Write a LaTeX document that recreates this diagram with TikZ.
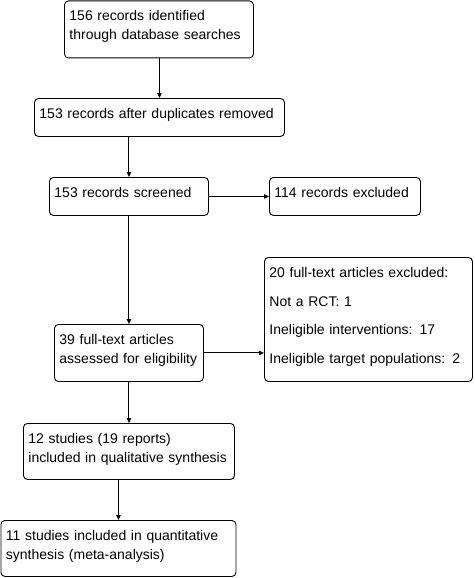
\documentclass[tikz,border=0pt]{standalone}
\usepackage{fontspec}
\setmainfont{Liberation Sans}
\usetikzlibrary{arrows.meta}

\begin{document}
\begin{tikzpicture}[x=1pt, y=-1pt, font=\fontsize{14}{19}\selectfont,
  box/.style={draw, rounded corners=4pt, anchor=north west, align=left,
    inner xsep=5pt, inner ysep=6pt, text height=14pt, line width=0.9pt},
  arr/.style={-{Triangle[length=5pt, width=4.5pt]}, line width=1pt}]
  \useasboundingbox (0,0) rectangle (474,578);
  \node[box, text width=179pt, text depth=31pt] (id) at (64,0.5)
    {156 records identified\\through database searches};
  \node[box, text width=240pt, text depth=12pt] (dup) at (34,98)
    {153 records after duplicates removed};
  \node[box, text width=149pt, text depth=12pt] (scr) at (49,177)
    {153 records screened};
  \node[box, text width=141pt, text depth=12pt] (exc) at (269,177)
    {114 records excluded};
  \node[box, text width=139pt, text depth=31pt] (ft) at (54,324)
    {39 full-text articles\\assessed for eligibility};
  \node[box, text width=198pt, text depth=98pt,
        font=\fontsize{14}{28.7}\selectfont] (ftx) at (264,257)
    {20 full-text articles excluded:\\Not a RCT: 1\\Ineligible interventions: 17\\Ineligible target populations: 2};
  \node[box, text width=201pt, text depth=30pt] (ql) at (23,423)
    {12 studies (19 reports)\\included in qualitative synthesis};
  \node[box, text width=225pt, text depth=30pt] (qn) at (0.5,520)
    {11 studies included in quantitative\\synthesis (meta-analysis)};
  \foreach \a/\b in {id/dup, dup/scr, scr/ft, ft/ql, ql/qn}
    \draw[arr] (\a.south -| \b.north) -- (\b.north);
  \foreach \a/\b in {scr/exc, ft/ftx}
    \draw[arr] (\a.east) -- (\a.east -| \b.west);
\end{tikzpicture}
\end{document}
